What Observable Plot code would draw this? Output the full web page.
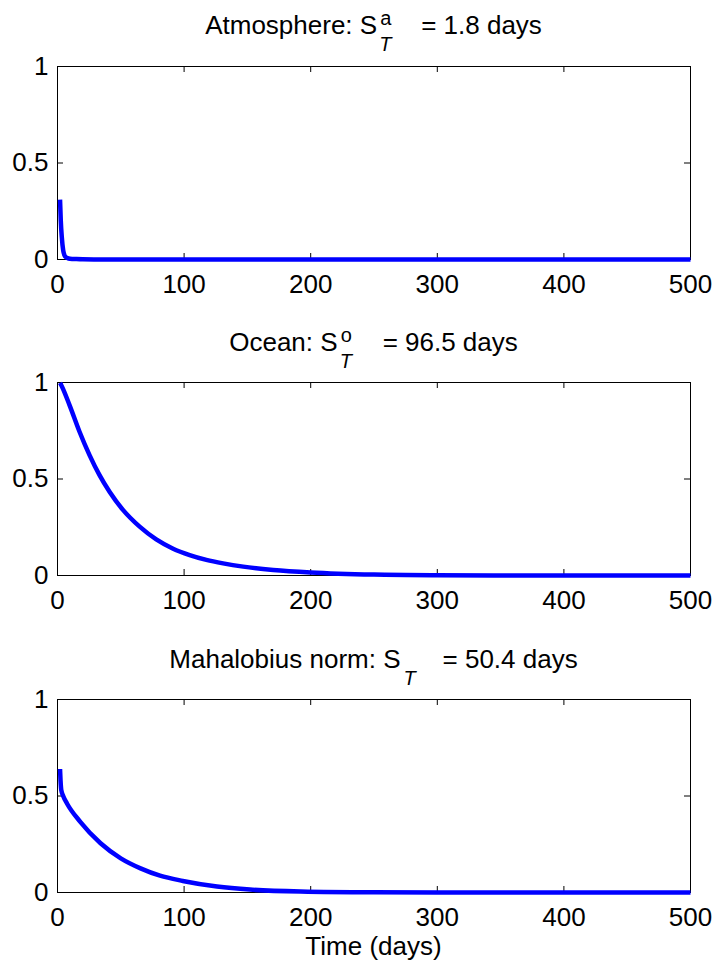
<!DOCTYPE html>
<html>
<head>
<meta charset="utf-8">
<script src="https://cdn.jsdelivr.net/npm/d3@7"></script>
<script src="https://cdn.jsdelivr.net/npm/@observablehq/plot@0.6"></script>
<style>
  body { margin: 0; background: #fff; }
  #fig { position: relative; width: 715px; height: 967px; background: #fff;
         font-family: "Liberation Sans", Arial, Helvetica, sans-serif; color: #000; }
  .panel { position: absolute; left: 0; }
  .title { position: absolute; left: 0; width: 747px; text-align: center;
           font-size: 26px; line-height: 26px; white-space: nowrap; }
  .ss { display: inline-block; position: relative; height: 0; vertical-align: baseline; }
  .ss span { position: absolute; font-size: 20px; line-height: 20px; }
  .ss .sub { font-style: italic; }
</style>
</head>
<body>
<div id="fig"></div>
<script>
// Axis ticks
const xTicks = [0, 100, 200, 300, 400, 500];
const yTicks = [0, 0.5, 1];

// Atmosphere response
const atmDays   = [2, 2.6, 3.4, 4.5, 5.5, 6.6, 8, 10, 12, 15, 20, 30, 50, 100, 200, 300, 400, 500];
const atmValues = [0.31, 0.2, 0.116, 0.047, 0.022, 0.012, 0.007, 0.004, 0.003, 0.002, 0.001, 0.0005, 0.0002, 0, 0, 0, 0, 0];

// Ocean response
const oceanDays   = [2, 3, 9.5, 17.4, 25.3, 33.2, 41.1, 51.7, 64.9, 78, 91.3, 104.4, 117.6, 130.8, 146.7, 170.4, 200, 250, 300, 350, 400, 500];
const oceanValues = [0.998, 0.986, 0.883, 0.745, 0.624, 0.52, 0.434, 0.34, 0.253, 0.187, 0.139, 0.106, 0.081, 0.063, 0.046, 0.029, 0.016, 0.005, 0.0015, 0.0005, 0.0002, 0];

// Mahalobius norm response
const mahalDays   = [2, 2.4, 3, 4.5, 7.6, 18, 34, 50, 65.6, 81, 99, 126, 152, 192, 250, 300, 400, 500];
const mahalValues = [0.64, 0.58, 0.53, 0.5, 0.46, 0.366, 0.255, 0.177, 0.125, 0.087, 0.06, 0.031, 0.015, 0.005, 0.001, 0.0003, 0, 0];

// Title pieces
const titleNames  = ["Atmosphere", "Ocean", "Mahalobius norm"];
const titleSups   = ["a", "o", ""];
const titleValues = [1.8, 96.5, 50.4];
const xLabel = "Time (days)";

// Layout
const W = 715, mL = 57, mR = 25, mT = 8, mB = 45, frameH = 193, tickLen = 6;
const frameW = W - mL - mR;
const layout = [
  {top: 58,  baseline: 34,    gap: 44, supLeft: 3, subLeft: 2},
  {top: 374, baseline: 350.5, gap: 45, supLeft: 3, subLeft: 2},
  {top: 691, baseline: 667.5, gap: 42, supLeft: 3, subLeft: 3}
];
const series = [[atmDays, atmValues], [oceanDays, oceanValues], [mahalDays, mahalValues]];

const fig = document.getElementById("fig");
const font = '"Liberation Sans", Arial, Helvetica, sans-serif';

series.forEach(([days, vals], i) => {
  const L = layout[i];
  const data = days.map((t, k) => ({t, v: vals[k]}));

  const chart = Plot.plot({
    width: W,
    height: mT + frameH + mB,
    marginLeft: mL, marginRight: mR, marginTop: mT, marginBottom: mB,
    x: {domain: [0, 500]},
    y: {domain: [0, 1]},
    style: {fontFamily: font, fontSize: "26px", color: "#000", background: "transparent", overflow: "visible"},
    marks: [
      Plot.frame({stroke: "#000", strokeWidth: 1}),
      // inward ticks on all four sides
      Plot.tickX(xTicks, {x: d => d, insetTop: frameH - tickLen, stroke: "#000"}),
      Plot.tickX(xTicks, {x: d => d, insetBottom: frameH - tickLen, stroke: "#000"}),
      Plot.tickY(yTicks, {y: d => d, insetRight: frameW - tickLen, stroke: "#000"}),
      Plot.tickY(yTicks, {y: d => d, insetLeft: frameW - tickLen, stroke: "#000"}),
      Plot.axisX(xTicks, {tickSize: 0, tickPadding: 15, label: null}),
      Plot.axisY(yTicks, {tickSize: 0, tickPadding: 9, tickFormat: d => String(d), label: null}),
      Plot.line(data, {x: "t", y: "v", stroke: "#0000ff", strokeWidth: 4.5, curve: "monotone-x",
                       strokeLinecap: "butt", strokeLinejoin: "round"})
    ]
  });
  chart.classList.add("panel");
  chart.style.top = L.top + "px";
  fig.appendChild(chart);

  // Title: "Name: S^sup_T = value days"
  const title = document.createElement("div");
  title.className = "title";
  title.style.top = (L.baseline - 22) + "px";
  title.append(titleNames[i] + ": S");
  const ss = document.createElement("span");
  ss.className = "ss";
  ss.style.width = L.gap + "px";
  if (titleSups[i]) {
    const sup = document.createElement("span");
    sup.className = "sup";
    sup.textContent = titleSups[i];
    sup.style.left = L.supLeft + "px";
    sup.style.bottom = "6px";
    ss.appendChild(sup);
  }
  const sub = document.createElement("span");
  sub.className = "sub";
  sub.textContent = "T";
  sub.style.left = L.subLeft + "px";
  sub.style.bottom = "-20px";
  ss.appendChild(sub);
  title.appendChild(ss);
  title.append("= " + titleValues[i] + " days");
  fig.appendChild(title);
});

const xl = document.createElement("div");
xl.className = "title";
xl.style.top = (955 - 22) + "px";
xl.textContent = xLabel;
fig.appendChild(xl);
</script>
</body>
</html>
